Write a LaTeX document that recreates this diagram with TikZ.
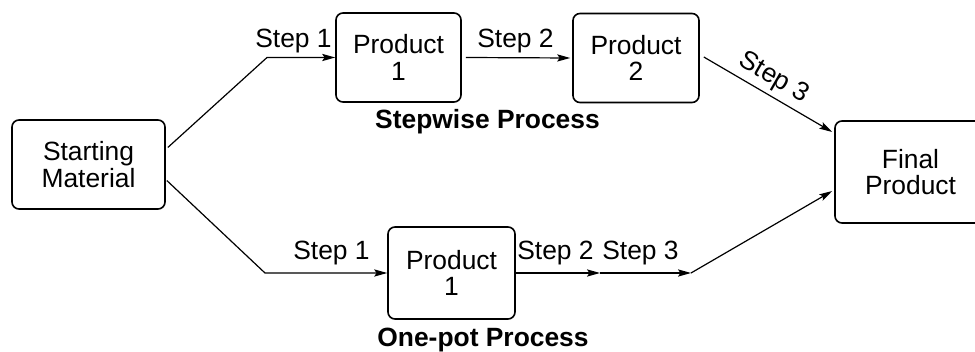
\documentclass[tikz,border=0pt]{standalone}
\usepackage{fontspec}
\setmainfont{Liberation Sans}
\usetikzlibrary{arrows.meta,calc}

\begin{document}
\begin{tikzpicture}[x=0.5pt,y=-0.5pt,
  every node/.style={font=\fontsize{13.2}{13.3}\selectfont},
  box/.style={draw,line width=0.8pt,rounded corners=3.5pt,align=center,inner sep=0pt},
  conn/.style={line width=0.6pt},
  arr/.style={conn,-{Stealth[length=6.5pt,width=3.6pt,inset=1.2pt]}},
  lbl/.style={anchor=base,inner sep=0pt},
  title/.style={anchor=base,inner sep=0pt,font=\fontsize{13.2}{13.3}\selectfont\bfseries}]
\useasboundingbox (0,0) rectangle (975,352);

% boxes
\node[box,minimum width=76.5pt,minimum height=44.5pt] (s)  at (88.5,164.5) {Starting\\Material};
\node[box,minimum width=62.5pt,minimum height=44.5pt] (p1) at (398.5,57.5) {Product\\1};
\node[box,minimum width=63pt,minimum height=44.5pt]   (p2) at (636,58) {Product\\2};
\node[box,minimum width=63.5pt,minimum height=46pt]   (q1) at (451.5,273) {Product\\1};
\node[box,minimum width=75.5pt,minimum height=51pt]   (f)  at (910.5,172) {Final\\Product};

% bend points and free ends
\coordinate (b1) at (267,57.5);
\coordinate (b2) at (265,273);
\coordinate (m)  at (600,273);
\coordinate (n)  at (691,273);

% stepwise route
\draw[arr] ($(s.east)+(2,-17)$) -- (b1) -- (p1.west);
\draw[arr] ($(p1.east)+(4,0)$) -- ($(p2.west)+(-2,0)$);
\draw[arr] ($(p2.east)+(4,-1)$) -- ($(f.west)+(-2,-40)$);

% one-pot route
\draw[arr] ($(s.east)+(1,16)$) -- (b2) -- (q1.west);
\draw[arr] (q1.east) -- (m);
\draw[arr] (m) -- (n);
\draw[arr] (n) -- ($(f.west)+(-2,19)$);

% step labels
\node[lbl] (t1) at (293.5,48) {Step 1};
\node[lbl] (t2) at (515.5,48) {Step 2};
\node[lbl,rotate=-30] (t3) at (770.5,84) {Step 3};
\node[lbl] (u1) at (331.5,260) {Step 1};
\node[lbl] (u2) at (555.5,260) {Step 2};
\node[lbl] (u3) at (640.5,260) {Step 3};

% route titles
\node[title] (h1) at (487.5,129) {Stepwise Process};
\node[title] (h2) at (483,347) {One-pot Process};
\end{tikzpicture}
\end{document}
